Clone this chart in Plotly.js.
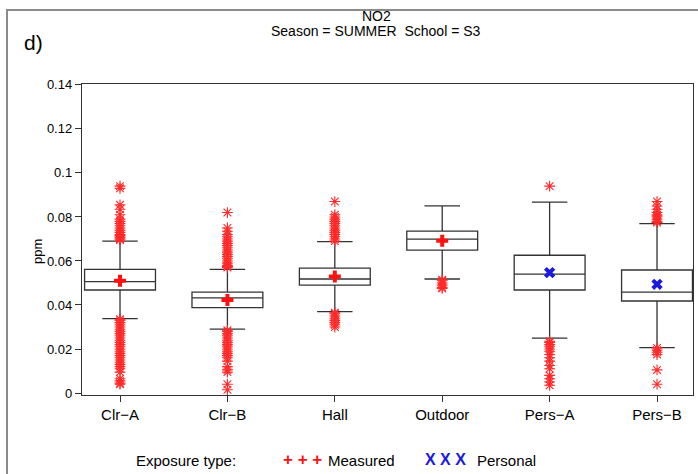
<!DOCTYPE html>
<html>
<head>
<meta charset="utf-8">
<script src="https://cdn.plot.ly/plotly-3.0.1.min.js"></script>
<style>html,body{margin:0;padding:0;background:#fff;}#chart{width:698px;height:474px;}</style>
</head>
<body>
<div id="chart"></div>
<script>
// ---- Data ----
const categories = ["Clr\u2212A", "Clr\u2212B", "Hall", "Outdoor", "Pers\u2212A", "Pers\u2212B"];
const q1Values     = [0.0468, 0.0388, 0.0490, 0.0649, 0.0468, 0.0418];
const medianValues = [0.0506, 0.0432, 0.0518, 0.0699, 0.0540, 0.0458];
const q3Values     = [0.0562, 0.0458, 0.0567, 0.0736, 0.0626, 0.0559];
const lowerWhisker = [0.0338, 0.0290, 0.0370, 0.0518, 0.0249, 0.0206];
const upperWhisker = [0.0690, 0.0562, 0.0688, 0.0850, 0.0867, 0.0770];

const measuredCats  = ["Clr\u2212A", "Clr\u2212B", "Hall", "Outdoor"];
const measuredMeans = [0.0510, 0.0423, 0.0529, 0.0692];
const personalCats  = ["Pers\u2212A", "Pers\u2212B"];
const personalMeans = [0.0547, 0.0494];

const outliersClrA = [0.0695,0.070,0.0705,0.071,0.0715,0.072,0.073,0.074,0.075,0.076,0.077,0.078,0.079,0.081,0.0835,0.0855,0.093,0.094,
  0.0335,0.033,0.032,0.031,0.030,0.029,0.028,0.027,0.026,0.025,0.024,0.023,0.022,0.021,0.020,0.019,0.018,0.017,0.016,0.015,0.014,0.013,0.012,0.011,0.0095,0.0065,0.0055,0.0045,0.004];
const outliersClrB = [0.057,0.0575,0.058,0.059,0.060,0.061,0.062,0.063,0.064,0.065,0.066,0.067,0.068,0.069,0.070,0.071,0.072,0.0735,0.075,0.082,
  0.0285,0.028,0.027,0.026,0.025,0.024,0.023,0.022,0.021,0.020,0.019,0.018,0.017,0.016,0.0145,0.012,0.0105,0.0095,0.004,0.0015];
const outliersHall = [0.069,0.070,0.071,0.072,0.073,0.074,0.075,0.076,0.077,0.078,0.079,0.080,0.081,0.087,
  0.0365,0.036,0.035,0.034,0.033,0.032,0.031,0.030];
const outliersOutdoor = [0.0515,0.051,0.050,0.049,0.048,0.0475];
const outliersPersA = [0.094,
  0.0235,0.023,0.022,0.021,0.020,0.019,0.0175,0.016,0.0145,0.0125,0.011,0.008,0.0065,0.005,0.0035];
const outliersPersB = [0.0775,0.078,0.079,0.080,0.0805,0.081,0.082,0.0835,0.085,0.087,
  0.0205,0.0195,0.0185,0.0175,0.0105,0.004];

const outlierSets = [outliersClrA, outliersClrB, outliersHall, outliersOutdoor, outliersPersA, outliersPersB];

// ---- Build traces ----
const traces = [];
traces.push({
  type: "box",
  x: categories,
  q1: q1Values, median: medianValues, q3: q3Values,
  lowerfence: lowerWhisker, upperfence: upperWhisker,
  width: 0.66, whiskerwidth: 0.5,
  boxpoints: false,
  line: {color: "#333333", width: 1.3},
  fillcolor: "rgba(0,0,0,0)",
  showlegend: false, hoverinfo: "skip"
});

const outX = [], outY = [];
outlierSets.forEach((arr, i) => { arr.forEach(v => { outX.push(categories[i]); outY.push(v); }); });
traces.push({
  type: "scatter", mode: "markers", x: outX, y: outY,
  marker: {symbol: "asterisk-open", size: 9, color: "#ff2a2a", line: {color: "#ff2a2a", width: 1.1}},
  showlegend: false, hoverinfo: "skip"
});
traces.push({
  type: "scatter", mode: "markers", x: measuredCats, y: measuredMeans, name: "Measured",
  marker: {symbol: "cross", size: 10, color: "#ff1010", line: {width: 0}},
  showlegend: false
});
traces.push({
  type: "scatter", mode: "markers", x: personalCats, y: personalMeans, name: "Personal",
  marker: {symbol: "x", size: 10, color: "#1a1adf", line: {width: 0}},
  showlegend: false
});

// ---- Layout ----
const W = 698, H = 474, L = 82, R = 5, T = 84, B = 79;
const pw = W - L - R, ph = H - T - B;
const px = x => (x - L) / pw;
const py = y => (H - B - y) / ph;
const fontFam = "Liberation Sans, Arial, sans-serif";
const txt = (size, weight) => ({family: fontFam, size: size, color: "#000", weight: weight || "normal"});

const layout = {
  width: W, height: H,
  margin: {l: L, r: R, t: T, b: B},
  paper_bgcolor: "#ffffff", plot_bgcolor: "#ffffff",
  font: txt(12),
  title: {text: ""},
  xaxis: {
    type: "category", range: [-0.354, 5.335],
    showline: true, mirror: true, linecolor: "#333", linewidth: 1.2,
    ticks: "outside", ticklen: 6, tickcolor: "#333", tickwidth: 1,
    showgrid: false, zeroline: false,
    tickfont: txt(15)
  },
  yaxis: {
    range: [-0.0009, 0.1404],
    tickvals: [0, 0.02, 0.04, 0.06, 0.08, 0.1, 0.12, 0.14],
    ticktext: ["0", "0.02", "0.04", "0.06", "0.08", "0.1", "0.12", "0.14"],
    showline: true, mirror: true, linecolor: "#333", linewidth: 1.2,
    ticks: "outside", ticklen: 6, tickcolor: "#333", tickwidth: 1,
    showgrid: false, zeroline: false,
    tickfont: txt(13)
  },
  shapes: [{
    type: "rect", xref: "paper", yref: "paper",
    x0: px(7), x1: px(710), y0: py(490), y1: py(10),
    line: {color: "#8a8a8a", width: 2}, fillcolor: "rgba(0,0,0,0)"
  }],
  annotations: [
    {text: "NO2", xref: "paper", yref: "paper", x: px(376), y: py(16),
     showarrow: false, xanchor: "center", yanchor: "middle", font: txt(14)},
    {text: "Season = SUMMER  School = S3", xref: "paper", yref: "paper", x: px(376), y: py(31),
     showarrow: false, xanchor: "center", yanchor: "middle", font: txt(14)},
    {text: "ppm", xref: "paper", yref: "paper", x: px(38), y: py(252), textangle: -90,
     showarrow: false, xanchor: "center", yanchor: "middle", font: txt(13)},
    {text: "d)", xref: "paper", yref: "paper", x: px(33), y: py(42),
     showarrow: false, xanchor: "center", yanchor: "middle", font: txt(21)},
    {text: "Exposure type:", xref: "paper", yref: "paper", x: px(186), y: py(460),
     showarrow: false, xanchor: "center", yanchor: "middle", font: txt(15)},
    {text: "<b>+ + +</b>", xref: "paper", yref: "paper", x: px(302), y: py(459),
     showarrow: false, xanchor: "center", yanchor: "middle", font: {family: fontFam, size: 17, color: "#ff1010"}},
    {text: "Measured", xref: "paper", yref: "paper", x: px(326), y: py(460),
     showarrow: false, xanchor: "left", yanchor: "middle", font: txt(15)},
    {text: "<b>X X X</b>", xref: "paper", yref: "paper", x: px(445), y: py(459),
     showarrow: false, xanchor: "center", yanchor: "middle", font: {family: fontFam, size: 16, color: "#1a1adf"}},
    {text: "Personal", xref: "paper", yref: "paper", x: px(475), y: py(460),
     showarrow: false, xanchor: "left", yanchor: "middle", font: txt(15)}
  ]
};

Plotly.newPlot("chart", traces, layout, {displayModeBar: false, staticPlot: true});
</script>
</body>
</html>
